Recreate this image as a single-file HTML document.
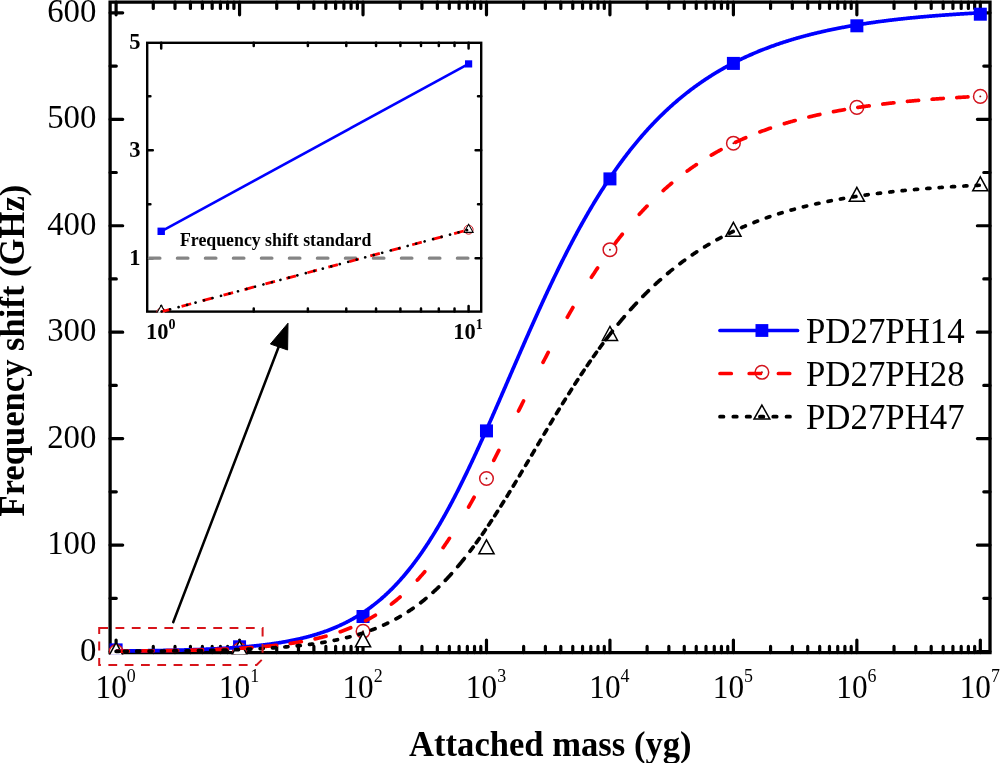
<!DOCTYPE html>
<html><head><meta charset="utf-8"><style>
html,body{margin:0;padding:0;background:#fff;width:1000px;height:763px;overflow:hidden}
svg{display:block;will-change:transform}
text{font-family:"Liberation Serif",serif;fill:#000}
.tl{font-size:34px}
.sup{font-size:19.5px}
.ttl{font-size:34.6px;font-weight:bold}
.lg{font-size:34.83px}
.ist{font-size:17.8px;font-weight:bold}
.itl{font-size:22.5px;font-weight:bold}
.isup{font-size:14px}
</style></head><body>
<svg width="1000" height="763" viewBox="0 0 1000 763">
<path d="M110.1 652.6V2.2H990V652.6Z" fill="none" stroke="#000" stroke-width="3.3" stroke-linejoin="miter"/>
<path d="M116.1 652.6V640M116.1 2.2V14.8M153.27 652.6V646.4M153.27 2.2V8.4M175.01 652.6V646.4M175.01 2.2V8.4M190.43 652.6V646.4M190.43 2.2V8.4M202.39 652.6V646.4M202.39 2.2V8.4M212.17 652.6V646.4M212.17 2.2V8.4M220.44 652.6V646.4M220.44 2.2V8.4M227.6 652.6V646.4M227.6 2.2V8.4M233.91 652.6V646.4M233.91 2.2V8.4M239.56 652.6V640M239.56 2.2V14.8M276.73 652.6V646.4M276.73 2.2V8.4M298.47 652.6V646.4M298.47 2.2V8.4M313.89 652.6V646.4M313.89 2.2V8.4M325.85 652.6V646.4M325.85 2.2V8.4M335.63 652.6V646.4M335.63 2.2V8.4M343.9 652.6V646.4M343.9 2.2V8.4M351.06 652.6V646.4M351.06 2.2V8.4M357.37 652.6V646.4M357.37 2.2V8.4M363.02 652.6V640M363.02 2.2V14.8M400.19 652.6V646.4M400.19 2.2V8.4M421.93 652.6V646.4M421.93 2.2V8.4M437.35 652.6V646.4M437.35 2.2V8.4M449.31 652.6V646.4M449.31 2.2V8.4M459.09 652.6V646.4M459.09 2.2V8.4M467.36 652.6V646.4M467.36 2.2V8.4M474.52 652.6V646.4M474.52 2.2V8.4M480.83 652.6V646.4M480.83 2.2V8.4M486.48 652.6V640M486.48 2.2V14.8M523.65 652.6V646.4M523.65 2.2V8.4M545.39 652.6V646.4M545.39 2.2V8.4M560.81 652.6V646.4M560.81 2.2V8.4M572.77 652.6V646.4M572.77 2.2V8.4M582.55 652.6V646.4M582.55 2.2V8.4M590.82 652.6V646.4M590.82 2.2V8.4M597.98 652.6V646.4M597.98 2.2V8.4M604.29 652.6V646.4M604.29 2.2V8.4M609.94 652.6V640M609.94 2.2V14.8M647.11 652.6V646.4M647.11 2.2V8.4M668.85 652.6V646.4M668.85 2.2V8.4M684.27 652.6V646.4M684.27 2.2V8.4M696.23 652.6V646.4M696.23 2.2V8.4M706.01 652.6V646.4M706.01 2.2V8.4M714.28 652.6V646.4M714.28 2.2V8.4M721.44 652.6V646.4M721.44 2.2V8.4M727.75 652.6V646.4M727.75 2.2V8.4M733.4 652.6V640M733.4 2.2V14.8M770.57 652.6V646.4M770.57 2.2V8.4M792.31 652.6V646.4M792.31 2.2V8.4M807.73 652.6V646.4M807.73 2.2V8.4M819.69 652.6V646.4M819.69 2.2V8.4M829.47 652.6V646.4M829.47 2.2V8.4M837.74 652.6V646.4M837.74 2.2V8.4M844.9 652.6V646.4M844.9 2.2V8.4M851.21 652.6V646.4M851.21 2.2V8.4M856.86 652.6V640M856.86 2.2V14.8M894.03 652.6V646.4M894.03 2.2V8.4M915.77 652.6V646.4M915.77 2.2V8.4M931.19 652.6V646.4M931.19 2.2V8.4M943.15 652.6V646.4M943.15 2.2V8.4M952.93 652.6V646.4M952.93 2.2V8.4M961.2 652.6V646.4M961.2 2.2V8.4M968.36 652.6V646.4M968.36 2.2V8.4M974.67 652.6V646.4M974.67 2.2V8.4M980.32 652.6V640M980.32 2.2V14.8M110.1 651.5H122.7M990 651.5H977.4M110.1 598.28H116.3M990 598.28H983.8M110.1 545.06H122.7M990 545.06H977.4M110.1 491.84H116.3M990 491.84H983.8M110.1 438.62H122.7M990 438.62H977.4M110.1 385.4H116.3M990 385.4H983.8M110.1 332.18H122.7M990 332.18H977.4M110.1 278.96H116.3M990 278.96H983.8M110.1 225.74H122.7M990 225.74H977.4M110.1 172.52H116.3M990 172.52H983.8M110.1 119.3H122.7M990 119.3H977.4M110.1 66.08H116.3M990 66.08H983.8M110.1 12.86H122.7M990 12.86H977.4" stroke="#000" stroke-width="3.2" stroke-linecap="round" fill="none"/>
<defs><clipPath id="pc"><rect x="108.8" y="0.8" width="882.6" height="653.6"/></clipPath><clipPath id="ic"><rect x="146" y="41.6" width="336.4" height="271.1"/></clipPath></defs><g clip-path="url(#pc)">
<rect x="109.6" y="643.4" width="13" height="13" fill="#0000ff"/>
<rect x="233.06" y="640.3" width="13" height="13" fill="#0000ff"/>
<rect x="356.52" y="610" width="13" height="13" fill="#0000ff"/>
<rect x="479.98" y="424.4" width="13" height="13" fill="#0000ff"/>
<rect x="603.44" y="172.4" width="13" height="13" fill="#0000ff"/>
<rect x="726.9" y="56.9" width="13" height="13" fill="#0000ff"/>
<rect x="850.36" y="19.3" width="13" height="13" fill="#0000ff"/>
<rect x="973.82" y="7.7" width="13" height="13" fill="#0000ff"/>
<circle cx="116.1" cy="651.5" r="6.8" fill="#fff" stroke="#d3141e" stroke-width="1.5"/><circle cx="116.1" cy="651.5" r="0.95" fill="#8a1414"/>
<circle cx="239.56" cy="649.9" r="6.8" fill="#fff" stroke="#d3141e" stroke-width="1.5"/><circle cx="239.56" cy="649.9" r="0.95" fill="#8a1414"/>
<circle cx="363.02" cy="631.3" r="6.8" fill="#fff" stroke="#d3141e" stroke-width="1.5"/><circle cx="363.02" cy="631.3" r="0.95" fill="#8a1414"/>
<circle cx="486.48" cy="478.5" r="6.8" fill="#fff" stroke="#d3141e" stroke-width="1.5"/><circle cx="486.48" cy="478.5" r="0.95" fill="#8a1414"/>
<circle cx="609.94" cy="249.7" r="6.8" fill="#fff" stroke="#d3141e" stroke-width="1.5"/><circle cx="609.94" cy="249.7" r="0.95" fill="#8a1414"/>
<circle cx="733.4" cy="143.2" r="6.8" fill="#fff" stroke="#d3141e" stroke-width="1.5"/><circle cx="733.4" cy="143.2" r="0.95" fill="#8a1414"/>
<circle cx="856.86" cy="107.4" r="6.8" fill="#fff" stroke="#d3141e" stroke-width="1.5"/><circle cx="856.86" cy="107.4" r="0.95" fill="#8a1414"/>
<circle cx="980.32" cy="96.4" r="6.8" fill="#fff" stroke="#d3141e" stroke-width="1.5"/><circle cx="980.32" cy="96.4" r="0.95" fill="#8a1414"/>
<path d="M116.1 642.57L123.7 656.57L108.5 656.57Z" fill="#fff" stroke="#000" stroke-width="1.5"/>
<path d="M239.56 640.97L247.16 654.97L231.96 654.97Z" fill="#fff" stroke="#000" stroke-width="1.5"/>
<path d="M363.02 632.77L370.62 646.77L355.42 646.77Z" fill="#fff" stroke="#000" stroke-width="1.5"/>
<path d="M486.48 539.77L494.08 553.77L478.88 553.77Z" fill="#fff" stroke="#000" stroke-width="1.5"/>
<path d="M609.94 326.47L617.54 340.47L602.34 340.47Z" fill="#fff" stroke="#000" stroke-width="1.5"/>
<path d="M733.4 222.27L741 236.27L725.8 236.27Z" fill="#fff" stroke="#000" stroke-width="1.5"/>
<path d="M856.86 187.27L864.46 201.27L849.26 201.27Z" fill="#fff" stroke="#000" stroke-width="1.5"/>
<path d="M980.32 176.87L987.92 190.87L972.72 190.87Z" fill="#fff" stroke="#000" stroke-width="1.5"/>
<path d="M116.1 651.07 116.72 651.07 117.33 651.06 117.95 651.06 118.57 651.05 119.19 651.05 119.8 651.04 120.42 651.04 121.04 651.03 121.66 651.03 122.27 651.02 122.89 651.02 123.51 651.01 124.12 651 124.74 651 125.36 650.99 125.98 650.99 126.59 650.98 127.21 650.98 127.83 650.97 128.45 650.96 129.06 650.96 129.68 650.95 130.3 650.94 130.92 650.94 131.53 650.93 132.15 650.92 132.77 650.92 133.38 650.91 134 650.9 134.62 650.9 135.24 650.89 135.85 650.88 136.47 650.88 137.09 650.87 137.71 650.86 138.32 650.85 138.94 650.85 139.56 650.84 140.17 650.83 140.79 650.82 141.41 650.82 142.03 650.81 142.64 650.8 143.26 650.79 143.88 650.78 144.5 650.78 145.11 650.77 145.73 650.76 146.35 650.75 146.97 650.74 147.58 650.73 148.2 650.72 148.82 650.72 149.43 650.71 150.05 650.7 150.67 650.69 151.29 650.68 151.9 650.67 152.52 650.66 153.14 650.65 153.76 650.64 154.37 650.63 154.99 650.62 155.61 650.61 156.22 650.6 156.84 650.59 157.46 650.58 158.08 650.57 158.69 650.56 159.31 650.55 159.93 650.54 160.55 650.52 161.16 650.51 161.78 650.5 162.4 650.49 163.01 650.48 163.63 650.47 164.25 650.45 164.87 650.44 165.48 650.43 166.1 650.42 166.72 650.41 167.34 650.39 167.95 650.38 168.57 650.37 169.19 650.35 169.81 650.34 170.42 650.33 171.04 650.31 171.66 650.3 172.27 650.29 172.89 650.27 173.51 650.26 174.13 650.24 174.74 650.23 175.36 650.21 175.98 650.2 176.6 650.18 177.21 650.17 177.83 650.15 178.45 650.14 179.06 650.12 179.68 650.11 180.3 650.09 180.92 650.07 181.53 650.06 182.15 650.04 182.77 650.02 183.39 650.01 184 649.99 184.62 649.97 185.24 649.96 185.85 649.94 186.47 649.92 187.09 649.9 187.71 649.88 188.32 649.86 188.94 649.85 189.56 649.83 190.18 649.81 190.79 649.79 191.41 649.77 192.03 649.75 192.65 649.73 193.26 649.71 193.88 649.69 194.5 649.67 195.11 649.64 195.73 649.62 196.35 649.6 196.97 649.58 197.58 649.56 198.2 649.54 198.82 649.51 199.44 649.49 200.05 649.47 200.67 649.44 201.29 649.42 201.9 649.4 202.52 649.37 203.14 649.35 203.76 649.32 204.37 649.3 204.99 649.27 205.61 649.25 206.23 649.22 206.84 649.19 207.46 649.17 208.08 649.14 208.69 649.11 209.31 649.09 209.93 649.06 210.55 649.03 211.16 649 211.78 648.97 212.4 648.94 213.02 648.91 213.63 648.88 214.25 648.85 214.87 648.82 215.49 648.79 216.1 648.76 216.72 648.73 217.34 648.7 217.95 648.67 218.57 648.63 219.19 648.6 219.81 648.57 220.42 648.53 221.04 648.5 221.66 648.46 222.28 648.43 222.89 648.39 223.51 648.36 224.13 648.32 224.74 648.29 225.36 648.25 225.98 648.21 226.6 648.17 227.21 648.14 227.83 648.1 228.45 648.06 229.07 648.02 229.68 647.98 230.3 647.94 230.92 647.9 231.54 647.86 232.15 647.81 232.77 647.77 233.39 647.73 234 647.69 234.62 647.64 235.24 647.6 235.86 647.55 236.47 647.51 237.09 647.46 237.71 647.42 238.33 647.37 238.94 647.32 239.56 647.27 240.18 647.22 240.79 647.18 241.41 647.13 242.03 647.08 242.65 647.03 243.26 646.97 243.88 646.92 244.5 646.87 245.12 646.82 245.73 646.76 246.35 646.71 246.97 646.65 247.58 646.6 248.2 646.54 248.82 646.49 249.44 646.43 250.05 646.37 250.67 646.31 251.29 646.25 251.91 646.19 252.52 646.13 253.14 646.07 253.76 646.01 254.38 645.94 254.99 645.88 255.61 645.82 256.23 645.75 256.84 645.69 257.46 645.62 258.08 645.55 258.7 645.49 259.31 645.42 259.93 645.35 260.55 645.28 261.17 645.21 261.78 645.13 262.4 645.06 263.02 644.99 263.63 644.91 264.25 644.84 264.87 644.76 265.49 644.69 266.1 644.61 266.72 644.53 267.34 644.45 267.96 644.37 268.57 644.29 269.19 644.21 269.81 644.12 270.42 644.04 271.04 643.96 271.66 643.87 272.28 643.78 272.89 643.69 273.51 643.61 274.13 643.52 274.75 643.43 275.36 643.33 275.98 643.24 276.6 643.15 277.22 643.05 277.83 642.96 278.45 642.86 279.07 642.76 279.68 642.66 280.3 642.56 280.92 642.46 281.54 642.36 282.15 642.26 282.77 642.15 283.39 642.04 284.01 641.94 284.62 641.83 285.24 641.72 285.86 641.61 286.47 641.5 287.09 641.38 287.71 641.27 288.33 641.15 288.94 641.04 289.56 640.92 290.18 640.8 290.8 640.68 291.41 640.56 292.03 640.43 292.65 640.31 293.27 640.18 293.88 640.05 294.5 639.93 295.12 639.8 295.73 639.66 296.35 639.53 296.97 639.4 297.59 639.26 298.2 639.12 298.82 638.98 299.44 638.84 300.06 638.7 300.67 638.56 301.29 638.41 301.91 638.26 302.52 638.11 303.14 637.96 303.76 637.81 304.38 637.66 304.99 637.5 305.61 637.35 306.23 637.19 306.85 637.03 307.46 636.87 308.08 636.7 308.7 636.54 309.31 636.37 309.93 636.2 310.55 636.03 311.17 635.86 311.78 635.68 312.4 635.51 313.02 635.33 313.64 635.15 314.25 634.97 314.87 634.78 315.49 634.6 316.11 634.41 316.72 634.22 317.34 634.03 317.96 633.83 318.57 633.64 319.19 633.44 319.81 633.24 320.43 633.04 321.04 632.83 321.66 632.62 322.28 632.41 322.9 632.2 323.51 631.99 324.13 631.77 324.75 631.56 325.36 631.34 325.98 631.11 326.6 630.89 327.22 630.66 327.83 630.43 328.45 630.2 329.07 629.97 329.69 629.73 330.3 629.49 330.92 629.25 331.54 629 332.15 628.76 332.77 628.51 333.39 628.26 334.01 628 334.62 627.74 335.24 627.48 335.86 627.22 336.48 626.96 337.09 626.69 337.71 626.42 338.33 626.14 338.95 625.87 339.56 625.59 340.18 625.31 340.8 625.02 341.41 624.73 342.03 624.44 342.65 624.15 343.27 623.85 343.88 623.55 344.5 623.25 345.12 622.94 345.74 622.64 346.35 622.32 346.97 622.01 347.59 621.69 348.2 621.37 348.82 621.04 349.44 620.72 350.06 620.39 350.67 620.05 351.29 619.71 351.91 619.37 352.53 619.03 353.14 618.68 353.76 618.33 354.38 617.98 355 617.62 355.61 617.26 356.23 616.89 356.85 616.52 357.46 616.15 358.08 615.77 358.7 615.39 359.32 615.01 359.93 614.62 360.55 614.23 361.17 613.84 361.79 613.44 362.4 613.04 363.02 612.63 363.64 612.22 364.25 611.81 364.87 611.39 365.49 610.97 366.11 610.54 366.72 610.12 367.34 609.68 367.96 609.24 368.58 608.8 369.19 608.36 369.81 607.91 370.43 607.45 371.04 606.99 371.66 606.53 372.28 606.06 372.9 605.59 373.51 605.12 374.13 604.64 374.75 604.15 375.37 603.66 375.98 603.17 376.6 602.67 377.22 602.17 377.84 601.67 378.45 601.15 379.07 600.64 379.69 600.12 380.3 599.59 380.92 599.06 381.54 598.53 382.16 597.99 382.77 597.45 383.39 596.9 384.01 596.34 384.63 595.79 385.24 595.22 385.86 594.65 386.48 594.08 387.09 593.5 387.71 592.92 388.33 592.33 388.95 591.74 389.56 591.14 390.18 590.54 390.8 589.93 391.42 589.32 392.03 588.7 392.65 588.08 393.27 587.45 393.88 586.82 394.5 586.18 395.12 585.53 395.74 584.88 396.35 584.23 396.97 583.57 397.59 582.9 398.21 582.23 398.82 581.56 399.44 580.87 400.06 580.19 400.68 579.49 401.29 578.8 401.91 578.09 402.53 577.38 403.14 576.67 403.76 575.95 404.38 575.22 405 574.49 405.61 573.76 406.23 573.01 406.85 572.27 407.47 571.51 408.08 570.75 408.7 569.99 409.32 569.22 409.93 568.44 410.55 567.66 411.17 566.87 411.79 566.08 412.4 565.28 413.02 564.47 413.64 563.66 414.26 562.85 414.87 562.02 415.49 561.19 416.11 560.36 416.73 559.52 417.34 558.67 417.96 557.82 418.58 556.96 419.19 556.1 419.81 555.23 420.43 554.36 421.05 553.48 421.66 552.59 422.28 551.7 422.9 550.8 423.52 549.89 424.13 548.98 424.75 548.07 425.37 547.14 425.98 546.21 426.6 545.28 427.22 544.34 427.84 543.39 428.45 542.44 429.07 541.49 429.69 540.52 430.31 539.55 430.92 538.58 431.54 537.6 432.16 536.61 432.77 535.62 433.39 534.62 434.01 533.61 434.63 532.6 435.24 531.59 435.86 530.56 436.48 529.54 437.1 528.5 437.71 527.46 438.33 526.42 438.95 525.37 439.57 524.31 440.18 523.25 440.8 522.18 441.42 521.11 442.03 520.03 442.65 518.95 443.27 517.85 443.89 516.76 444.5 515.66 445.12 514.55 445.74 513.44 446.36 512.32 446.97 511.2 447.59 510.07 448.21 508.93 448.82 507.8 449.44 506.65 450.06 505.5 450.68 504.35 451.29 503.18 451.91 502.02 452.53 500.85 453.15 499.67 453.76 498.49 454.38 497.3 455 496.11 455.62 494.92 456.23 493.72 456.85 492.51 457.47 491.3 458.08 490.08 458.7 488.86 459.32 487.64 459.94 486.41 460.55 485.17 461.17 483.93 461.79 482.69 462.41 481.44 463.02 480.19 463.64 478.93 464.26 477.67 464.87 476.4 465.49 475.13 466.11 473.85 466.73 472.58 467.34 471.29 467.96 470 468.58 468.71 469.2 467.42 469.81 466.12 470.43 464.81 471.05 463.51 471.66 462.2 472.28 460.88 472.9 459.56 473.52 458.24 474.13 456.92 474.75 455.59 475.37 454.25 475.99 452.92 476.6 451.58 477.22 450.24 477.84 448.89 478.46 447.54 479.07 446.19 479.69 444.83 480.31 443.47 480.92 442.11 481.54 440.75 482.16 439.38 482.78 438.01 483.39 436.64 484.01 435.26 484.63 433.89 485.25 432.51 485.86 431.12 486.48 429.74 487.1 428.35 487.71 426.96 488.33 425.57 488.95 424.18 489.57 422.78 490.18 421.38 490.8 419.98 491.42 418.58 492.04 417.18 492.65 415.77 493.27 414.37 493.89 412.96 494.5 411.55 495.12 410.13 495.74 408.72 496.36 407.31 496.97 405.89 497.59 404.48 498.21 403.06 498.83 401.64 499.44 400.22 500.06 398.8 500.68 397.38 501.3 395.95 501.91 394.53 502.53 393.11 503.15 391.68 503.76 390.26 504.38 388.83 505 387.4 505.62 385.98 506.23 384.55 506.85 383.12 507.47 381.7 508.09 380.27 508.7 378.84 509.32 377.41 509.94 375.99 510.55 374.56 511.17 373.13 511.79 371.7 512.41 370.28 513.02 368.85 513.64 367.43 514.26 366 514.88 364.58 515.49 363.15 516.11 361.73 516.73 360.31 517.35 358.89 517.96 357.47 518.58 356.05 519.2 354.63 519.81 353.21 520.43 351.79 521.05 350.38 521.67 348.96 522.28 347.55 522.9 346.14 523.52 344.73 524.14 343.32 524.75 341.91 525.37 340.5 525.99 339.1 526.6 337.7 527.22 336.3 527.84 334.9 528.46 333.5 529.07 332.1 529.69 330.71 530.31 329.32 530.93 327.93 531.54 326.54 532.16 325.16 532.78 323.77 533.39 322.39 534.01 321.01 534.63 319.64 535.25 318.26 535.86 316.89 536.48 315.52 537.1 314.15 537.72 312.79 538.33 311.43 538.95 310.07 539.57 308.71 540.19 307.36 540.8 306.01 541.42 304.66 542.04 303.31 542.65 301.97 543.27 300.63 543.89 299.29 544.51 297.96 545.12 296.63 545.74 295.3 546.36 293.97 546.98 292.65 547.59 291.33 548.21 290.02 548.83 288.7 549.44 287.39 550.06 286.09 550.68 284.78 551.3 283.48 551.91 282.19 552.53 280.9 553.15 279.61 553.77 278.32 554.38 277.04 555 275.76 555.62 274.48 556.23 273.21 556.85 271.94 557.47 270.68 558.09 269.42 558.7 268.16 559.32 266.91 559.94 265.66 560.56 264.41 561.17 263.17 561.79 261.93 562.41 260.69 563.03 259.46 563.64 258.23 564.26 257.01 564.88 255.79 565.49 254.58 566.11 253.36 566.73 252.16 567.35 250.95 567.96 249.75 568.58 248.55 569.2 247.36 569.82 246.17 570.43 244.99 571.05 243.81 571.67 242.63 572.28 241.46 572.9 240.29 573.52 239.13 574.14 237.97 574.75 236.81 575.37 235.66 575.99 234.51 576.61 233.37 577.22 232.23 577.84 231.1 578.46 229.97 579.07 228.84 579.69 227.72 580.31 226.6 580.93 225.48 581.54 224.37 582.16 223.27 582.78 222.17 583.4 221.07 584.01 219.98 584.63 218.89 585.25 217.8 585.87 216.72 586.48 215.64 587.1 214.57 587.72 213.51 588.33 212.44 588.95 211.38 589.57 210.33 590.19 209.28 590.8 208.23 591.42 207.19 592.04 206.15 592.66 205.12 593.27 204.09 593.89 203.06 594.51 202.04 595.12 201.02 595.74 200.01 596.36 199 596.98 198 597.59 197 598.21 196 598.83 195.01 599.45 194.03 600.06 193.04 600.68 192.06 601.3 191.09 601.92 190.12 602.53 189.15 603.15 188.19 603.77 187.24 604.38 186.28 605 185.33 605.62 184.39 606.24 183.45 606.85 182.51 607.47 181.58 608.09 180.65 608.71 179.73 609.32 178.81 609.94 177.89 610.56 176.98 611.17 176.07 611.79 175.17 612.41 174.27 613.03 173.38 613.64 172.49 614.26 171.6 614.88 170.72 615.5 169.84 616.11 168.96 616.73 168.09 617.35 167.23 617.96 166.37 618.58 165.51 619.2 164.65 619.82 163.8 620.43 162.96 621.05 162.12 621.67 161.28 622.29 160.44 622.9 159.61 623.52 158.79 624.14 157.96 624.76 157.15 625.37 156.33 625.99 155.52 626.61 154.72 627.22 153.91 627.84 153.11 628.46 152.32 629.08 151.53 629.69 150.74 630.31 149.96 630.93 149.18 631.55 148.4 632.16 147.63 632.78 146.86 633.4 146.1 634.01 145.34 634.63 144.58 635.25 143.83 635.87 143.08 636.48 142.34 637.1 141.59 637.72 140.86 638.34 140.12 638.95 139.39 639.57 138.66 640.19 137.94 640.8 137.22 641.42 136.51 642.04 135.79 642.66 135.08 643.27 134.38 643.89 133.68 644.51 132.98 645.13 132.29 645.74 131.59 646.36 130.91 646.98 130.22 647.6 129.54 648.21 128.87 648.83 128.19 649.45 127.52 650.06 126.86 650.68 126.19 651.3 125.53 651.92 124.88 652.53 124.22 653.15 123.57 653.77 122.93 654.39 122.29 655 121.65 655.62 121.01 656.24 120.38 656.85 119.75 657.47 119.12 658.09 118.5 658.71 117.88 659.32 117.26 659.94 116.65 660.56 116.04 661.18 115.43 661.79 114.83 662.41 114.23 663.03 113.63 663.65 113.04 664.26 112.45 664.88 111.86 665.5 111.27 666.11 110.69 666.73 110.11 667.35 109.54 667.97 108.96 668.58 108.39 669.2 107.83 669.82 107.26 670.44 106.7 671.05 106.15 671.67 105.59 672.29 105.04 672.9 104.49 673.52 103.95 674.14 103.4 674.76 102.86 675.37 102.33 675.99 101.79 676.61 101.26 677.23 100.73 677.84 100.21 678.46 99.69 679.08 99.17 679.69 98.65 680.31 98.13 680.93 97.62 681.55 97.11 682.16 96.61 682.78 96.11 683.4 95.61 684.02 95.11 684.63 94.61 685.25 94.12 685.87 93.63 686.49 93.14 687.1 92.66 687.72 92.18 688.34 91.7 688.95 91.22 689.57 90.75 690.19 90.28 690.81 89.81 691.42 89.34 692.04 88.88 692.66 88.42 693.28 87.96 693.89 87.5 694.51 87.05 695.13 86.6 695.74 86.15 696.36 85.7 696.98 85.26 697.6 84.82 698.21 84.38 698.83 83.94 699.45 83.51 700.07 83.08 700.68 82.65 701.3 82.22 701.92 81.79 702.53 81.37 703.15 80.95 703.77 80.54 704.39 80.12 705 79.71 705.62 79.3 706.24 78.89 706.86 78.48 707.47 78.08 708.09 77.68 708.71 77.28 709.33 76.88 709.94 76.48 710.56 76.09 711.18 75.7 711.79 75.31 712.41 74.93 713.03 74.54 713.65 74.16 714.26 73.78 714.88 73.4 715.5 73.02 716.12 72.65 716.73 72.28 717.35 71.91 717.97 71.54 718.58 71.18 719.2 70.81 719.82 70.45 720.44 70.09 721.05 69.74 721.67 69.38 722.29 69.03 722.91 68.68 723.52 68.33 724.14 67.98 724.76 67.63 725.38 67.29 725.99 66.95 726.61 66.61 727.23 66.27 727.84 65.93 728.46 65.6 729.08 65.27 729.7 64.94 730.31 64.61 730.93 64.28 731.55 63.96 732.17 63.63 732.78 63.31 733.4 62.99 734.02 62.68 734.63 62.36 735.25 62.05 735.87 61.73 736.49 61.42 737.1 61.11 737.72 60.81 738.34 60.5 738.96 60.2 739.57 59.9 740.19 59.6 740.81 59.3 741.42 59 742.04 58.7 742.66 58.41 743.28 58.12 743.89 57.83 744.51 57.54 745.13 57.25 745.75 56.97 746.36 56.68 746.98 56.4 747.6 56.12 748.22 55.84 748.83 55.57 749.45 55.29 750.07 55.02 750.68 54.74 751.3 54.47 751.92 54.2 752.54 53.93 753.15 53.67 753.77 53.4 754.39 53.14 755.01 52.88 755.62 52.62 756.24 52.36 756.86 52.1 757.47 51.84 758.09 51.59 758.71 51.33 759.33 51.08 759.94 50.83 760.56 50.58 761.18 50.33 761.8 50.09 762.41 49.84 763.03 49.6 763.65 49.36 764.26 49.12 764.88 48.88 765.5 48.64 766.12 48.4 766.73 48.17 767.35 47.93 767.97 47.7 768.59 47.47 769.2 47.24 769.82 47.01 770.44 46.78 771.06 46.56 771.67 46.33 772.29 46.11 772.91 45.89 773.52 45.67 774.14 45.45 774.76 45.23 775.38 45.01 775.99 44.79 776.61 44.58 777.23 44.37 777.85 44.15 778.46 43.94 779.08 43.73 779.7 43.52 780.31 43.32 780.93 43.11 781.55 42.9 782.17 42.7 782.78 42.5 783.4 42.3 784.02 42.09 784.64 41.89 785.25 41.7 785.87 41.5 786.49 41.3 787.11 41.11 787.72 40.91 788.34 40.72 788.96 40.53 789.57 40.34 790.19 40.15 790.81 39.96 791.43 39.77 792.04 39.59 792.66 39.4 793.28 39.22 793.9 39.04 794.51 38.85 795.13 38.67 795.75 38.49 796.36 38.31 796.98 38.14 797.6 37.96 798.22 37.78 798.83 37.61 799.45 37.43 800.07 37.26 800.69 37.09 801.3 36.92 801.92 36.75 802.54 36.58 803.15 36.41 803.77 36.24 804.39 36.08 805.01 35.91 805.62 35.75 806.24 35.58 806.86 35.42 807.48 35.26 808.09 35.1 808.71 34.94 809.33 34.78 809.95 34.62 810.56 34.47 811.18 34.31 811.8 34.16 812.41 34 813.03 33.85 813.65 33.7 814.27 33.54 814.88 33.39 815.5 33.24 816.12 33.09 816.74 32.95 817.35 32.8 817.97 32.65 818.59 32.51 819.2 32.36 819.82 32.22 820.44 32.08 821.06 31.93 821.67 31.79 822.29 31.65 822.91 31.51 823.53 31.37 824.14 31.23 824.76 31.1 825.38 30.96 826 30.82 826.61 30.69 827.23 30.55 827.85 30.42 828.46 30.29 829.08 30.15 829.7 30.02 830.32 29.89 830.93 29.76 831.55 29.63 832.17 29.51 832.79 29.38 833.4 29.25 834.02 29.12 834.64 29 835.25 28.87 835.87 28.75 836.49 28.63 837.11 28.5 837.72 28.38 838.34 28.26 838.96 28.14 839.58 28.02 840.19 27.9 840.81 27.78 841.43 27.67 842.04 27.55 842.66 27.43 843.28 27.32 843.9 27.2 844.51 27.09 845.13 26.97 845.75 26.86 846.37 26.75 846.98 26.63 847.6 26.52 848.22 26.41 848.84 26.3 849.45 26.19 850.07 26.08 850.69 25.98 851.3 25.87 851.92 25.76 852.54 25.66 853.16 25.55 853.77 25.45 854.39 25.34 855.01 25.24 855.63 25.13 856.24 25.03 856.86 24.93 857.48 24.83 858.09 24.73 858.71 24.63 859.33 24.53 859.95 24.43 860.56 24.33 861.18 24.23 861.8 24.13 862.42 24.04 863.03 23.94 863.65 23.84 864.27 23.75 864.88 23.65 865.5 23.56 866.12 23.47 866.74 23.37 867.35 23.28 867.97 23.19 868.59 23.1 869.21 23.01 869.82 22.92 870.44 22.83 871.06 22.74 871.68 22.65 872.29 22.56 872.91 22.47 873.53 22.38 874.14 22.3 874.76 22.21 875.38 22.13 876 22.04 876.61 21.95 877.23 21.87 877.85 21.79 878.47 21.7 879.08 21.62 879.7 21.54 880.32 21.46 880.93 21.37 881.55 21.29 882.17 21.21 882.79 21.13 883.4 21.05 884.02 20.97 884.64 20.89 885.26 20.82 885.87 20.74 886.49 20.66 887.11 20.58 887.73 20.51 888.34 20.43 888.96 20.36 889.58 20.28 890.19 20.21 890.81 20.13 891.43 20.06 892.05 19.98 892.66 19.91 893.28 19.84 893.9 19.77 894.52 19.69 895.13 19.62 895.75 19.55 896.37 19.48 896.98 19.41 897.6 19.34 898.22 19.27 898.84 19.2 899.45 19.13 900.07 19.06 900.69 19 901.31 18.93 901.92 18.86 902.54 18.8 903.16 18.73 903.77 18.66 904.39 18.6 905.01 18.53 905.63 18.47 906.24 18.4 906.86 18.34 907.48 18.28 908.1 18.21 908.71 18.15 909.33 18.09 909.95 18.02 910.57 17.96 911.18 17.9 911.8 17.84 912.42 17.78 913.03 17.72 913.65 17.66 914.27 17.6 914.89 17.54 915.5 17.48 916.12 17.42 916.74 17.36 917.36 17.3 917.97 17.25 918.59 17.19 919.21 17.13 919.82 17.08 920.44 17.02 921.06 16.96 921.68 16.91 922.29 16.85 922.91 16.8 923.53 16.74 924.15 16.69 924.76 16.63 925.38 16.58 926 16.53 926.61 16.47 927.23 16.42 927.85 16.37 928.47 16.31 929.08 16.26 929.7 16.21 930.32 16.16 930.94 16.11 931.55 16.06 932.17 16.01 932.79 15.96 933.41 15.91 934.02 15.86 934.64 15.81 935.26 15.76 935.87 15.71 936.49 15.66 937.11 15.61 937.73 15.56 938.34 15.52 938.96 15.47 939.58 15.42 940.2 15.37 940.81 15.33 941.43 15.28 942.05 15.23 942.66 15.19 943.28 15.14 943.9 15.1 944.52 15.05 945.13 15.01 945.75 14.96 946.37 14.92 946.99 14.87 947.6 14.83 948.22 14.79 948.84 14.74 949.45 14.7 950.07 14.66 950.69 14.62 951.31 14.57 951.92 14.53 952.54 14.49 953.16 14.45 953.78 14.41 954.39 14.37 955.01 14.32 955.63 14.28 956.25 14.24 956.86 14.2 957.48 14.16 958.1 14.12 958.71 14.08 959.33 14.04 959.95 14.01 960.57 13.97 961.18 13.93 961.8 13.89 962.42 13.85 963.04 13.81 963.65 13.78 964.27 13.74 964.89 13.7 965.5 13.66 966.12 13.63 966.74 13.59 967.36 13.55 967.97 13.52 968.59 13.48 969.21 13.45 969.83 13.41 970.44 13.37 971.06 13.34 971.68 13.3 972.3 13.27 972.91 13.24 973.53 13.2 974.15 13.17 974.76 13.13 975.38 13.1 976 13.06 976.62 13.03 977.23 13 977.85 12.97 978.47 12.93 979.09 12.9 979.7 12.87 980.32 12.83" stroke="#0000ff" stroke-width="3.7" fill="none" stroke-linejoin="round"/>
<path d="M117.25 651.17 117.37 651.17 117.68 651.17 118 651.17 118.32 651.17 118.63 651.17 118.95 651.16 119.27 651.16 119.58 651.16 119.9 651.16 120.22 651.16 120.53 651.15 120.85 651.15 121.17 651.15 121.48 651.15 121.8 651.15 122.11 651.14 122.43 651.14 122.75 651.14 123.06 651.14 123.38 651.14 123.7 651.13 124.01 651.13 124.33 651.13 124.65 651.13 124.96 651.12 125.28 651.12 125.6 651.12 125.91 651.12 126.23 651.12 126.55 651.11 126.86 651.11 127.18 651.11 127.5 651.11 127.81 651.1 128.13 651.1 128.45 651.1 M141.94 650.98 142.37 650.98 143.01 650.97 143.64 650.97 144.27 650.96 144.91 650.96 145.54 650.95 146.17 650.94 146.81 650.94 147.44 650.93 148.07 650.92 148.71 650.92 149.34 650.91 149.97 650.9 150.61 650.89 151.24 650.89 151.87 650.88 152.5 650.87 153.14 650.87 M166.63 650.68 167.07 650.68 167.7 650.67 168.33 650.66 168.97 650.65 169.6 650.64 170.23 650.63 170.87 650.62 171.5 650.61 172.13 650.6 172.76 650.59 173.4 650.57 174.03 650.56 174.66 650.55 175.3 650.54 175.93 650.53 176.56 650.52 177.2 650.51 177.83 650.49 M191.33 650.21 191.76 650.2 192.39 650.18 193.03 650.17 193.66 650.15 194.29 650.13 194.92 650.12 195.56 650.1 196.19 650.09 196.82 650.07 197.46 650.05 198.09 650.04 198.72 650.02 199.36 650 199.99 649.98 200.62 649.96 201.26 649.95 201.89 649.93 202.52 649.91 M216.02 649.46 216.45 649.44 217.08 649.42 217.72 649.39 218.35 649.37 218.98 649.34 219.62 649.32 220.25 649.29 220.88 649.26 221.52 649.24 222.15 649.21 222.78 649.18 223.42 649.16 224.05 649.13 224.68 649.1 225.31 649.07 225.95 649.04 226.58 649.01 227.21 648.99 M240.73 648.27 241.14 648.25 241.78 648.21 242.41 648.17 243.04 648.13 243.68 648.09 244.31 648.05 244.94 648.01 245.57 647.97 246.21 647.93 246.84 647.88 247.47 647.84 248.11 647.8 248.74 647.76 249.37 647.71 250.01 647.67 250.64 647.62 251.27 647.58 251.91 647.53 M265.46 646.4 265.83 646.37 266.47 646.31 267.1 646.25 267.73 646.19 268.37 646.12 269 646.06 269.63 646 270.27 645.93 270.9 645.87 271.53 645.8 272.17 645.74 272.8 645.67 273.43 645.6 274.07 645.53 274.7 645.46 275.33 645.39 275.96 645.32 276.6 645.25 M290.23 643.47 290.53 643.43 291.16 643.34 291.79 643.24 292.43 643.15 293.06 643.05 293.69 642.95 294.33 642.85 294.96 642.75 295.59 642.65 296.22 642.55 296.86 642.44 297.49 642.34 298.12 642.23 298.76 642.13 299.39 642.02 300.02 641.91 300.66 641.8 301.29 641.68 M315.12 638.89 315.22 638.87 315.85 638.73 316.49 638.58 317.12 638.43 317.75 638.28 318.38 638.13 319.02 637.98 319.65 637.82 320.28 637.67 320.92 637.51 321.55 637.35 322.18 637.19 322.82 637.02 323.45 636.86 324.08 636.69 324.72 636.52 325.35 636.35 325.98 636.18 M340.21 631.76 340.54 631.65 341.18 631.42 341.81 631.2 342.44 630.97 343.08 630.74 343.71 630.51 344.34 630.27 344.98 630.03 345.61 629.79 346.24 629.55 346.88 629.31 347.51 629.06 348.14 628.81 348.77 628.55 349.41 628.3 350.04 628.04 350.67 627.78 M365.63 620.76 365.87 620.64 366.5 620.3 367.14 619.96 367.77 619.62 368.4 619.27 369.03 618.92 369.67 618.57 370.3 618.21 370.93 617.85 371.57 617.49 372.2 617.12 372.83 616.75 373.47 616.37 374.1 615.99 374.73 615.61 375.37 615.23 M391.41 604.13 391.83 603.81 392.46 603.32 393.09 602.82 393.73 602.31 394.36 601.8 394.99 601.29 395.63 600.77 396.26 600.25 396.89 599.72 397.53 599.19 398.16 598.65 398.79 598.11 399.42 597.57 400.06 597.02 M417.35 580.09 417.79 579.62 418.42 578.93 419.05 578.23 419.68 577.52 420.32 576.81 420.95 576.09 421.58 575.37 422.22 574.65 422.85 573.91 423.48 573.18 424.12 572.43 424.75 571.69 M443.15 547.59 443.74 546.74 444.38 545.83 445.01 544.91 445.64 543.99 446.28 543.06 446.91 542.12 447.54 541.18 448.18 540.23 448.81 539.28 449.44 538.33 M468.63 507.02 469.07 506.25 469.7 505.14 470.34 504.02 470.97 502.91 471.6 501.79 472.23 500.66 472.87 499.53 473.5 498.4 474.13 497.27 M493.74 460.41 493.76 460.36 494.39 459.13 495.03 457.89 495.66 456.65 496.29 455.41 496.93 454.17 497.56 452.92 498.19 451.68 498.83 450.43 M518.53 411.02 519.09 409.9 519.72 408.63 520.35 407.35 520.99 406.08 521.62 404.81 522.25 403.54 522.88 402.27 523.52 400.99 M543.04 362.37 543.14 362.17 543.78 360.95 544.41 359.73 545.04 358.51 545.68 357.29 546.31 356.07 546.94 354.86 547.58 353.65 548.21 352.44 M567.33 317.26 567.84 316.36 568.47 315.24 569.1 314.13 569.74 313.03 570.37 311.92 571 310.82 571.64 309.73 572.27 308.63 572.9 307.54 M591.43 277.3 591.9 276.57 592.53 275.6 593.16 274.63 593.8 273.66 594.43 272.7 595.06 271.74 595.69 270.79 596.33 269.84 596.96 268.89 597.59 267.95 M615.39 243.05 615.95 242.31 616.59 241.48 617.22 240.66 617.85 239.84 618.49 239.03 619.12 238.22 619.75 237.41 620.39 236.61 621.02 235.81 621.65 235.01 622.29 234.22 M639.3 214.31 639.38 214.22 640.01 213.53 640.65 212.84 641.28 212.16 641.91 211.48 642.55 210.8 643.18 210.13 643.81 209.46 644.45 208.79 645.08 208.13 645.71 207.47 646.34 206.81 646.98 206.16 M663.21 190.54 663.44 190.33 664.07 189.76 664.71 189.2 665.34 188.64 665.97 188.08 666.6 187.53 667.24 186.98 667.87 186.43 668.5 185.88 669.14 185.34 669.77 184.8 670.4 184.26 671.04 183.73 671.67 183.2 M687.2 171.05 687.5 170.83 688.13 170.37 688.76 169.91 689.4 169.45 690.03 169 690.66 168.55 691.3 168.1 691.93 167.66 692.56 167.21 693.2 166.77 693.83 166.34 694.46 165.9 695.1 165.47 695.73 165.04 696.36 164.61 M711.3 155.17 711.56 155.02 712.19 154.65 712.82 154.28 713.46 153.91 714.09 153.55 714.72 153.18 715.36 152.82 715.99 152.46 716.62 152.1 717.26 151.75 717.89 151.4 718.52 151.04 719.15 150.69 719.79 150.35 720.42 150 721.05 149.66 M735.54 142.31 735.62 142.28 736.25 141.98 736.88 141.68 737.52 141.39 738.15 141.09 738.78 140.8 739.41 140.51 740.05 140.22 740.68 139.93 741.31 139.65 741.95 139.36 742.58 139.08 743.21 138.8 743.85 138.52 744.48 138.24 745.11 137.97 745.75 137.69 M759.91 131.95 760.31 131.8 760.94 131.56 761.57 131.32 762.21 131.09 762.84 130.85 763.47 130.62 764.11 130.39 764.74 130.16 765.37 129.93 766.01 129.7 766.64 129.47 767.27 129.25 767.91 129.02 768.54 128.8 769.17 128.58 769.8 128.36 770.44 128.14 M784.37 123.63 785 123.44 785.63 123.25 786.27 123.06 786.9 122.87 787.53 122.69 788.17 122.5 788.8 122.32 789.43 122.13 790.06 121.95 790.7 121.77 791.33 121.59 791.96 121.41 792.6 121.23 793.23 121.05 793.86 120.88 794.5 120.7 795.13 120.53 M808.91 116.98 809.06 116.94 809.69 116.79 810.33 116.64 810.96 116.49 811.59 116.34 812.22 116.19 812.86 116.04 813.49 115.89 814.12 115.75 814.76 115.6 815.39 115.46 816.02 115.31 816.66 115.17 817.29 115.03 817.92 114.89 818.56 114.75 819.19 114.61 819.82 114.47 M833.5 111.67 833.75 111.62 834.38 111.5 835.02 111.38 835.65 111.26 836.28 111.14 836.92 111.02 837.55 110.9 838.18 110.78 838.82 110.67 839.45 110.55 840.08 110.44 840.72 110.32 841.35 110.21 841.98 110.1 842.61 109.98 843.25 109.87 843.88 109.76 844.51 109.65 M858.12 107.43 858.44 107.38 859.08 107.29 859.71 107.19 860.34 107.1 860.98 107 861.61 106.91 862.24 106.81 862.87 106.72 863.51 106.63 864.14 106.54 864.77 106.45 865.41 106.36 866.04 106.26 866.67 106.18 867.31 106.09 867.94 106 868.57 105.91 869.21 105.82 M882.77 104.06 883.13 104.02 883.77 103.94 884.4 103.87 885.03 103.79 885.67 103.72 886.3 103.64 886.93 103.57 887.57 103.49 888.2 103.42 888.83 103.35 889.47 103.27 890.1 103.2 890.73 103.13 891.37 103.06 892 102.99 892.63 102.92 893.26 102.85 893.9 102.78 M907.44 101.38 907.83 101.35 908.46 101.28 909.09 101.22 909.73 101.16 910.36 101.1 910.99 101.04 911.63 100.99 912.26 100.93 912.89 100.87 913.52 100.81 914.16 100.75 914.79 100.7 915.42 100.64 916.06 100.58 916.69 100.53 917.32 100.47 917.96 100.41 918.59 100.36 M932.11 99.25 932.52 99.22 933.15 99.17 933.79 99.12 934.42 99.08 935.05 99.03 935.68 98.98 936.32 98.94 936.95 98.89 937.58 98.84 938.22 98.8 938.85 98.75 939.48 98.71 940.12 98.66 940.75 98.61 941.38 98.57 942.02 98.53 942.65 98.48 943.28 98.44 M956.79 97.56 957.21 97.53 957.84 97.5 958.48 97.46 959.11 97.42 959.74 97.38 960.38 97.34 961.01 97.31 961.64 97.27 962.28 97.23 962.91 97.2 963.54 97.16 964.18 97.12 964.81 97.09 965.44 97.05 966.07 97.02 966.71 96.98 967.34 96.95 967.97 96.91" stroke="#ff0000" stroke-width="3.7" fill="none" stroke-linecap="round"/>
<path d="M116.1 651.3 116.31 651.3 116.52 651.3 116.73 651.3 116.94 651.3 117.16 651.3 117.37 651.3 117.58 651.3 117.79 651.3 118 651.3 118.21 651.3 118.42 651.29 118.63 651.29 118.85 651.29 119.06 651.29 119.1 651.29 M124.34 651.27 124.65 651.27 124.97 651.27 125.29 651.27 125.6 651.27 125.92 651.26 126.24 651.26 126.55 651.26 126.87 651.26 127.19 651.26 127.38 651.26 M136.68 651.21 137 651.21 137.32 651.21 137.63 651.21 137.95 651.2 138.26 651.2 138.58 651.2 138.9 651.2 139.21 651.2 139.53 651.2 139.73 651.19 M149.03 651.14 149.34 651.14 149.66 651.13 149.98 651.13 150.29 651.13 150.61 651.13 150.93 651.12 151.24 651.12 151.56 651.12 151.88 651.12 152.07 651.12 M161.37 651.04 161.69 651.04 162.01 651.04 162.32 651.04 162.64 651.03 162.96 651.03 163.27 651.03 163.59 651.02 163.91 651.02 164.22 651.02 164.42 651.02 M173.72 650.93 174.04 650.92 174.35 650.92 174.67 650.92 174.99 650.91 175.3 650.91 175.62 650.9 175.94 650.9 176.25 650.9 176.57 650.89 176.77 650.89 M186.07 650.78 186.38 650.77 186.7 650.77 187.02 650.76 187.33 650.76 187.65 650.76 187.97 650.75 188.28 650.75 188.6 650.74 188.92 650.74 189.11 650.73 M198.41 650.59 198.73 650.58 199.05 650.58 199.36 650.57 199.68 650.57 199.99 650.56 200.31 650.56 200.63 650.55 200.94 650.55 201.26 650.54 201.46 650.54 M210.76 650.36 211.07 650.35 211.39 650.34 211.71 650.34 212.02 650.33 212.34 650.32 212.66 650.31 212.97 650.31 213.29 650.3 213.61 650.29 213.81 650.29 M223.1 650.06 223.42 650.05 223.74 650.04 224.05 650.04 224.37 650.03 224.69 650.02 225 650.01 225.32 650 225.64 649.99 225.95 649.98 226.15 649.98 M235.45 649.69 235.77 649.68 236.08 649.67 236.4 649.66 236.72 649.65 237.03 649.64 237.35 649.63 237.67 649.61 237.98 649.6 238.3 649.59 238.5 649.58 M247.8 649.22 248.11 649.21 248.43 649.2 248.75 649.18 249.06 649.17 249.38 649.16 249.7 649.14 250.01 649.13 250.33 649.12 250.65 649.1 250.85 649.09 M260.14 648.64 260.46 648.62 260.78 648.61 261.09 648.59 261.41 648.57 261.72 648.56 262.04 648.54 262.36 648.52 262.67 648.5 262.99 648.49 263.21 648.47 M272.49 647.91 272.8 647.89 273.12 647.87 273.44 647.85 273.75 647.82 274.07 647.8 274.39 647.78 274.7 647.76 275.02 647.74 275.34 647.72 275.56 647.7 M284.83 646.99 285.15 646.97 285.47 646.94 285.78 646.91 286.1 646.89 286.42 646.86 286.73 646.83 287.05 646.81 287.37 646.78 287.68 646.75 287.92 646.73 M297.18 645.85 297.5 645.81 297.81 645.78 298.13 645.75 298.45 645.71 298.76 645.68 299.08 645.65 299.4 645.61 299.71 645.58 300.03 645.54 300.29 645.52 M309.53 644.42 309.84 644.38 310.16 644.33 310.48 644.29 310.79 644.25 311.11 644.21 311.43 644.17 311.74 644.12 312.06 644.08 312.38 644.04 312.67 644 M321.87 642.63 322.19 642.58 322.51 642.53 322.82 642.48 323.14 642.43 323.45 642.38 323.77 642.32 324.09 642.27 324.4 642.22 324.72 642.16 325.04 642.11 325.07 642.1 M334.22 640.42 334.53 640.35 334.85 640.29 335.17 640.23 335.48 640.16 335.8 640.1 336.12 640.03 336.43 639.97 336.75 639.9 337.07 639.84 337.38 639.77 337.5 639.74 M346.56 637.67 346.88 637.6 347.2 637.52 347.51 637.44 347.83 637.36 348.15 637.28 348.46 637.2 348.78 637.12 349.1 637.04 349.41 636.95 349.73 636.87 349.96 636.81 M358.91 634.29 359.23 634.19 359.54 634.09 359.86 634 360.18 633.9 360.49 633.8 360.81 633.7 361.13 633.6 361.44 633.5 361.76 633.4 362.08 633.3 362.39 633.2 362.47 633.17 M371.26 630.13 371.57 630.01 371.89 629.89 372.21 629.77 372.52 629.65 372.84 629.53 373.16 629.41 373.47 629.29 373.79 629.17 374.11 629.05 374.42 628.92 374.74 628.8 375.04 628.68 M383.6 625.05 383.92 624.91 384.24 624.77 384.55 624.62 384.87 624.47 385.18 624.33 385.5 624.18 385.82 624.03 386.13 623.88 386.45 623.74 386.77 623.59 387.08 623.43 387.4 623.28 387.68 623.15 M395.95 618.9 396.26 618.73 396.58 618.55 396.9 618.38 397.21 618.2 397.53 618.03 397.85 617.85 398.16 617.67 398.48 617.49 398.8 617.31 399.11 617.13 399.43 616.95 399.75 616.77 400.06 616.58 400.38 616.4 400.38 616.4 M408.29 611.51 408.61 611.3 408.93 611.09 409.24 610.88 409.56 610.67 409.88 610.46 410.19 610.25 410.51 610.04 410.83 609.82 411.14 609.61 411.46 609.39 411.78 609.17 412.09 608.96 412.41 608.74 412.73 608.52 413.04 608.3 413.15 608.22 M420.64 602.71 420.96 602.46 421.27 602.22 421.59 601.97 421.91 601.72 422.22 601.47 422.54 601.22 422.86 600.97 423.17 600.72 423.49 600.46 423.81 600.21 424.12 599.95 424.44 599.7 424.76 599.44 425.07 599.18 425.39 598.92 425.71 598.66 425.96 598.45 M432.99 592.36 433.3 592.07 433.62 591.79 433.94 591.5 434.25 591.21 434.57 590.92 434.89 590.62 435.2 590.33 435.52 590.04 435.84 589.74 436.15 589.44 436.47 589.15 436.78 588.85 437.1 588.55 437.42 588.25 437.73 587.94 438.05 587.64 438.37 587.34 438.68 587.03 438.77 586.95 M445.33 580.36 445.65 580.02 445.97 579.69 446.28 579.36 446.6 579.03 446.91 578.69 447.23 578.36 447.55 578.02 447.86 577.68 448.18 577.34 448.5 577 448.81 576.66 449.13 576.32 449.45 575.97 449.76 575.63 450.08 575.28 450.4 574.93 450.71 574.59 451.03 574.24 451.35 573.89 451.57 573.64 M457.68 566.63 457.99 566.26 458.31 565.88 458.63 565.51 458.94 565.13 459.26 564.75 459.58 564.37 459.89 563.99 460.21 563.61 460.53 563.22 460.84 562.84 461.16 562.45 461.48 562.07 461.79 561.68 462.11 561.29 462.43 560.9 462.74 560.51 463.06 560.12 463.38 559.72 463.69 559.33 464.01 558.93 464.31 558.55 M470.02 551.21 470.34 550.79 470.66 550.37 470.97 549.96 471.29 549.54 471.61 549.11 471.92 548.69 472.24 548.27 472.56 547.84 472.87 547.42 473.19 546.99 473.21 546.97 M476.29 542.76 476.36 542.67 476.67 542.23 476.99 541.79 477.3 541.35 477.62 540.91 477.94 540.47 478.25 540.03 478.57 539.59 478.89 539.14 479.2 538.7 479.37 538.46 M482.37 534.19 482.69 533.73 483 533.27 483.32 532.82 483.64 532.36 483.95 531.9 484.27 531.44 484.59 530.98 484.9 530.51 485.22 530.05 485.37 529.82 M488.62 525.02 488.7 524.9 489.02 524.42 489.33 523.95 489.65 523.47 489.97 522.99 490.28 522.52 490.6 522.04 490.92 521.56 491.23 521.08 491.55 520.6 M494.72 515.75 495.03 515.27 495.35 514.78 495.67 514.29 495.98 513.79 496.3 513.3 496.62 512.81 496.93 512.32 497.25 511.82 497.57 511.33 497.58 511.3 M500.94 506 501.05 505.84 501.36 505.34 501.68 504.83 502 504.33 502.31 503.82 502.63 503.32 502.95 502.81 503.26 502.31 503.58 501.8 503.76 501.51 M507.06 496.18 507.38 495.67 507.7 495.15 508.01 494.64 508.33 494.12 508.64 493.61 508.96 493.09 509.28 492.58 509.59 492.06 509.83 491.67 M513.27 486.02 513.39 485.81 513.71 485.29 514.03 484.77 514.34 484.24 514.66 483.72 514.98 483.19 515.29 482.67 515.61 482.14 515.93 481.62 516.01 481.48 M519.41 475.81 519.72 475.28 520.04 474.75 520.36 474.22 520.67 473.69 520.99 473.16 521.31 472.63 521.62 472.1 521.94 471.57 522.12 471.26 M525.59 465.42 525.74 465.17 526.06 464.64 526.37 464.1 526.69 463.57 527.01 463.04 527.32 462.5 527.64 461.97 527.96 461.43 528.27 460.9 528.3 460.86 M531.75 455.01 532.07 454.47 532.39 453.94 532.7 453.4 533.02 452.87 533.34 452.33 533.65 451.79 533.97 451.26 534.29 450.72 534.45 450.45 M537.92 444.58 538.09 444.3 538.4 443.76 538.72 443.23 539.03 442.69 539.35 442.16 539.67 441.62 539.98 441.09 540.3 440.55 540.62 440.02 540.62 440.02 M544.1 434.15 544.42 433.62 544.73 433.09 545.05 432.56 545.37 432.03 545.68 431.5 546 430.96 546.32 430.43 546.63 429.9 546.81 429.6 M550.25 423.86 550.43 423.56 550.75 423.03 551.06 422.5 551.38 421.98 551.7 421.45 552.01 420.93 552.33 420.4 552.65 419.87 552.96 419.35 552.98 419.32 M556.45 413.6 556.76 413.08 557.08 412.56 557.4 412.04 557.71 411.53 558.03 411.01 558.35 410.49 558.66 409.97 558.98 409.45 559.21 409.08 M562.58 403.61 562.78 403.28 563.09 402.77 563.41 402.26 563.73 401.75 564.04 401.24 564.36 400.73 564.68 400.23 564.99 399.72 565.31 399.21 565.37 399.11 M568.79 393.66 569.11 393.16 569.43 392.66 569.74 392.16 570.06 391.66 570.37 391.16 570.69 390.67 571.01 390.17 571.32 389.67 571.63 389.19 M574.91 384.09 575.12 383.76 575.44 383.27 575.76 382.78 576.07 382.29 576.39 381.81 576.71 381.32 577.02 380.83 577.34 380.35 577.66 379.86 577.8 379.64 M581.14 374.58 581.45 374.11 581.77 373.63 582.09 373.15 582.4 372.68 582.72 372.21 583.04 371.73 583.35 371.26 583.67 370.79 583.99 370.32 584.08 370.18 M587.25 365.52 587.47 365.19 587.79 364.73 588.1 364.27 588.42 363.81 588.74 363.35 589.05 362.89 589.37 362.43 589.69 361.97 590 361.52 590.25 361.15 M593.48 356.54 593.8 356.09 594.12 355.65 594.43 355.2 594.75 354.75 595.07 354.31 595.38 353.87 595.7 353.42 596.02 352.98 596.33 352.54 596.56 352.22 M599.59 348.05 599.82 347.73 600.13 347.3 600.45 346.87 600.76 346.44 601.08 346.01 601.4 345.58 601.71 345.15 602.03 344.73 602.35 344.3 602.66 343.87 602.73 343.78 M605.83 339.66 606.15 339.25 606.46 338.83 606.78 338.41 607.1 338 607.41 337.59 607.73 337.17 608.05 336.76 608.36 336.35 608.68 335.94 609 335.53 609.31 335.12 609.63 334.71 609.95 334.31 610.26 333.9 610.58 333.49 610.9 333.09 611.21 332.69 611.53 332.28 611.84 331.88 612.16 331.48 612.34 331.25 M618.18 324.01 618.49 323.62 618.81 323.24 619.13 322.86 619.44 322.47 619.76 322.09 620.08 321.71 620.39 321.33 620.71 320.95 621.03 320.57 621.34 320.19 621.66 319.82 621.97 319.44 622.29 319.07 622.61 318.69 622.92 318.32 623.24 317.95 623.56 317.57 623.87 317.2 624.19 316.83 624.4 316.59 M630.52 309.6 630.84 309.24 631.16 308.89 631.47 308.54 631.79 308.19 632.1 307.84 632.42 307.49 632.74 307.14 633.05 306.79 633.37 306.45 633.69 306.1 634 305.76 634.32 305.41 634.64 305.07 634.95 304.73 635.27 304.38 635.59 304.04 635.9 303.7 636.22 303.36 636.44 303.13 M642.87 296.41 643.18 296.09 643.5 295.77 643.82 295.45 644.13 295.13 644.45 294.81 644.77 294.49 645.08 294.17 645.4 293.86 645.72 293.54 646.03 293.22 646.35 292.91 646.67 292.6 646.98 292.28 647.3 291.97 647.62 291.66 647.93 291.35 648.25 291.04 648.47 290.82 M655.21 284.41 655.53 284.12 655.85 283.83 656.16 283.53 656.48 283.24 656.8 282.95 657.11 282.67 657.43 282.38 657.75 282.09 658.06 281.8 658.38 281.52 658.7 281.23 659.01 280.95 659.33 280.66 659.65 280.38 659.96 280.1 660.28 279.81 660.52 279.6 M667.56 273.53 667.88 273.26 668.19 273 668.51 272.74 668.83 272.47 669.14 272.21 669.46 271.95 669.78 271.69 670.09 271.43 670.41 271.17 670.73 270.91 671.04 270.65 671.36 270.4 671.68 270.14 671.99 269.88 672.31 269.63 672.57 269.42 M679.91 263.7 680.22 263.46 680.54 263.22 680.86 262.98 681.17 262.75 681.49 262.51 681.81 262.27 682.12 262.04 682.44 261.81 682.76 261.57 683.07 261.34 683.39 261.11 683.7 260.87 684.02 260.64 684.34 260.41 684.64 260.19 M692.25 254.84 692.57 254.63 692.89 254.41 693.2 254.2 693.52 253.98 693.83 253.77 694.15 253.56 694.47 253.35 694.78 253.14 695.1 252.93 695.42 252.72 695.73 252.51 696.05 252.3 696.37 252.09 696.68 251.88 696.74 251.85 M704.6 246.88 704.91 246.68 705.23 246.49 705.55 246.3 705.86 246.11 706.18 245.92 706.5 245.73 706.81 245.54 707.13 245.35 707.45 245.16 707.76 244.97 708.08 244.78 708.4 244.59 708.71 244.41 708.86 244.32 M716.94 239.73 717.26 239.56 717.58 239.38 717.89 239.21 718.21 239.04 718.53 238.87 718.84 238.7 719.16 238.53 719.48 238.36 719.79 238.19 720.11 238.02 720.43 237.85 720.74 237.68 721 237.54 M729.29 233.32 729.61 233.17 729.92 233.01 730.24 232.86 730.56 232.7 730.87 232.55 731.19 232.4 731.51 232.25 731.82 232.09 732.14 231.94 732.46 231.79 732.77 231.64 733.09 231.49 733.18 231.45 M741.64 227.59 741.95 227.45 742.27 227.31 742.59 227.17 742.9 227.03 743.22 226.9 743.54 226.76 743.85 226.62 744.17 226.49 744.49 226.35 744.8 226.22 745.12 226.08 745.37 225.97 M753.98 222.46 754.3 222.33 754.62 222.21 754.93 222.09 755.25 221.96 755.56 221.84 755.88 221.72 756.2 221.6 756.51 221.47 756.83 221.35 757.15 221.23 757.46 221.11 757.59 221.06 M766.33 217.87 766.64 217.76 766.96 217.65 767.28 217.54 767.59 217.43 767.91 217.32 768.23 217.21 768.54 217.1 768.86 216.99 769.18 216.89 769.49 216.78 769.81 216.67 769.83 216.66 M778.67 213.78 778.99 213.68 779.31 213.58 779.62 213.48 779.94 213.38 780.26 213.29 780.57 213.19 780.89 213.09 781.21 212.99 781.52 212.9 781.84 212.8 782.09 212.72 M791.02 210.12 791.34 210.03 791.65 209.95 791.97 209.86 792.29 209.77 792.6 209.68 792.92 209.6 793.24 209.51 793.55 209.42 793.87 209.34 794.19 209.25 794.37 209.2 M803.37 206.86 803.68 206.78 804 206.7 804.32 206.62 804.63 206.54 804.95 206.47 805.27 206.39 805.58 206.31 805.9 206.23 806.22 206.16 806.53 206.08 806.65 206.05 M815.71 203.95 816.03 203.88 816.35 203.81 816.66 203.74 816.98 203.67 817.29 203.6 817.61 203.53 817.93 203.46 818.24 203.39 818.56 203.32 818.88 203.25 818.95 203.24 M828.06 201.35 828.37 201.29 828.69 201.22 829.01 201.16 829.32 201.1 829.64 201.04 829.96 200.98 830.27 200.91 830.59 200.85 830.91 200.79 831.22 200.73 831.26 200.72 M840.4 199.03 840.72 198.98 841.04 198.92 841.35 198.87 841.67 198.81 841.99 198.75 842.3 198.7 842.62 198.64 842.94 198.59 843.25 198.53 843.57 198.48 843.57 198.48 M852.75 196.97 853.07 196.92 853.38 196.87 853.7 196.82 854.02 196.77 854.33 196.72 854.65 196.67 854.97 196.62 855.28 196.57 855.6 196.52 855.89 196.48 M865.1 195.12 865.41 195.08 865.73 195.04 866.05 194.99 866.36 194.95 866.68 194.9 867 194.86 867.31 194.82 867.63 194.77 867.95 194.73 868.22 194.69 M877.44 193.48 877.76 193.44 878.08 193.4 878.39 193.36 878.71 193.32 879.02 193.29 879.34 193.25 879.66 193.21 879.97 193.17 880.29 193.13 880.55 193.1 M889.79 192.02 890.1 191.98 890.42 191.95 890.74 191.91 891.05 191.88 891.37 191.84 891.69 191.81 892 191.77 892.32 191.74 892.64 191.7 892.88 191.68 M902.13 190.71 902.45 190.68 902.77 190.65 903.08 190.62 903.4 190.59 903.72 190.56 904.03 190.53 904.35 190.49 904.67 190.46 904.98 190.43 905.22 190.41 M914.48 189.55 914.8 189.52 915.11 189.49 915.43 189.47 915.75 189.44 916.06 189.41 916.38 189.38 916.7 189.35 917.01 189.33 917.33 189.3 917.56 189.28 M926.83 188.51 927.14 188.49 927.46 188.46 927.78 188.44 928.09 188.41 928.41 188.39 928.73 188.36 929.04 188.34 929.36 188.31 929.68 188.29 929.9 188.27 M939.17 187.59 939.49 187.57 939.81 187.54 940.12 187.52 940.44 187.5 940.75 187.48 941.07 187.46 941.39 187.43 941.7 187.41 942.02 187.39 942.24 187.37 M951.52 186.76 951.83 186.74 952.15 186.72 952.47 186.71 952.78 186.69 953.1 186.67 953.42 186.65 953.73 186.63 954.05 186.61 954.37 186.59 954.58 186.57 M963.86 186.03 964.18 186.01 964.5 185.99 964.81 185.98 965.13 185.96 965.45 185.94 965.76 185.92 966.08 185.91 966.4 185.89 966.71 185.87 966.92 185.86 M976.21 185.38 976.32 185.37 976.42 185.37 976.53 185.36 976.63 185.35 976.74 185.35 976.84 185.34 976.95 185.34 977.05 185.33 977.16 185.33 977.26 185.32 977.37 185.32 977.47 185.31 977.58 185.31 977.69 185.3 977.79 185.3 977.9 185.29 978 185.29 978.11 185.28 978.21 185.28 978.32 185.27 978.42 185.27 978.53 185.26 978.63 185.26 978.74 185.25 978.84 185.25 978.95 185.24 979.06 185.24 979.16 185.23 979.21 185.23" stroke="#000" stroke-width="3.7" fill="none" stroke-linecap="round"/>
</g>
<text transform="translate(96.40 660.50) scale(0.965 1)" text-anchor="end" class="tl">0</text>
<text transform="translate(96.40 554.06) scale(0.965 1)" text-anchor="end" class="tl">100</text>
<text transform="translate(96.40 447.62) scale(0.965 1)" text-anchor="end" class="tl">200</text>
<text transform="translate(96.40 341.18) scale(0.965 1)" text-anchor="end" class="tl">300</text>
<text transform="translate(96.40 234.74) scale(0.965 1)" text-anchor="end" class="tl">400</text>
<text transform="translate(96.40 128.30) scale(0.965 1)" text-anchor="end" class="tl">500</text>
<text transform="translate(96.40 21.86) scale(0.965 1)" text-anchor="end" class="tl">600</text>
<text transform="translate(115.60 697.80) scale(0.92 1.0)" text-anchor="middle" class="tl">10<tspan class="sup" dy="-16">0</tspan></text>
<text transform="translate(239.06 697.80) scale(0.92 1.0)" text-anchor="middle" class="tl">10<tspan class="sup" dy="-16">1</tspan></text>
<text transform="translate(362.52 697.80) scale(0.92 1.0)" text-anchor="middle" class="tl">10<tspan class="sup" dy="-16">2</tspan></text>
<text transform="translate(485.98 697.80) scale(0.92 1.0)" text-anchor="middle" class="tl">10<tspan class="sup" dy="-16">3</tspan></text>
<text transform="translate(609.44 697.80) scale(0.92 1.0)" text-anchor="middle" class="tl">10<tspan class="sup" dy="-16">4</tspan></text>
<text transform="translate(732.90 697.80) scale(0.92 1.0)" text-anchor="middle" class="tl">10<tspan class="sup" dy="-16">5</tspan></text>
<text transform="translate(856.36 697.80) scale(0.92 1.0)" text-anchor="middle" class="tl">10<tspan class="sup" dy="-16">6</tspan></text>
<text transform="translate(979.82 697.80) scale(0.92 1.0)" text-anchor="middle" class="tl">10<tspan class="sup" dy="-16">7</tspan></text>
<text transform="translate(550.3 755.6) scale(1 1.065)" text-anchor="middle" class="ttl">Attached mass (yg)</text>
<text transform="translate(23.9 350.6) rotate(-90) scale(1 1.065)" text-anchor="middle" class="ttl">Frequency shift (GHz)</text>
<path d="M720 330.5H797.5" stroke="#0000ff" stroke-width="3.7" stroke-linecap="round"/><rect x="755.5" y="324.1" width="12.8" height="12.8" fill="#0000ff"/>
<circle cx="761.9" cy="372.3" r="6.8" fill="#fff" stroke="#d3141e" stroke-width="1.5"/><circle cx="761.9" cy="372.3" r="0.95" fill="#8a1414"/><path d="M720 373.5H790" stroke="#ff0000" stroke-width="3.7" stroke-linecap="round" stroke-dasharray="11.3 17.9"/>
<path d="M761.9 405.13L769.8 419.03L754 419.03Z" fill="#fff" stroke="#000" stroke-width="1.5"/><path d="M720 416.7H790.5" stroke="#000" stroke-width="3.7" stroke-linecap="round" stroke-dasharray="3.5 9.8"/>
<text transform="translate(806.00 342.50) scale(1 1.042)" class="lg">PD27PH14</text>
<text transform="translate(806.00 385.50) scale(1 1.042)" class="lg">PD27PH28</text>
<text transform="translate(806.00 428.70) scale(1 1.042)" class="lg">PD27PH47</text>
<path d="M99.2 628 H262.6 V659 L256.6 665 H99.2 Z" fill="none" stroke="#d7141a" stroke-width="2" stroke-dasharray="8.8 7.5"/>
<path d="M173.2 622.2 L279 346" stroke="#000" stroke-width="2.5" stroke-linecap="round"/>
<path d="M288 323.2 L270.4 344 L287.6 350 Z" fill="#000" stroke="#000" stroke-width="1" stroke-linejoin="round"/>
<rect x="147.2" y="42.8" width="334" height="268.8" fill="#fff" stroke="#000" stroke-width="2.4"/>
<path d="M161.2 311.6V306M161.2 42.8V48.4M468.6 311.6V306M468.6 42.8V48.4M253.74 311.6V308.4M253.74 42.8V46M307.87 311.6V308.4M307.87 42.8V46M346.27 311.6V308.4M346.27 42.8V46M376.06 311.6V308.4M376.06 42.8V46M400.4 311.6V308.4M400.4 42.8V46M420.98 311.6V308.4M420.98 42.8V46M438.81 311.6V308.4M438.81 42.8V46M454.53 311.6V308.4M454.53 42.8V46M147.2 258.3H152.8M481.2 258.3H475.6M147.2 204.3H150.4M481.2 204.3H478M147.2 150.3H152.8M481.2 150.3H475.6M147.2 96.3H150.4M481.2 96.3H478" stroke="#000" stroke-width="2.5" stroke-linecap="round" fill="none"/>
<path d="M149.4 258.2H478" stroke="#858585" stroke-width="3.3" stroke-linecap="round" stroke-dasharray="10.5 17.5"/>
<text x="180" y="246.4" class="ist">Frequency shift standard</text>
<g clip-path="url(#ic)">
<circle cx="161.2" cy="312.3" r="4.4" fill="#fff" stroke="#d3141e" stroke-width="1"/><circle cx="161.2" cy="312.3" r="0.01" fill="#8a1414"/>
<path d="M161.2 305.35L165.7 313.35L156.7 313.35Z" fill="#fff" stroke="#000" stroke-width="1.1"/>
<circle cx="468.6" cy="229.68" r="4.5" fill="#fff" stroke="#d3141e" stroke-width="1"/><circle cx="468.6" cy="229.68" r="0.01" fill="#8a1414"/>
<path d="M468.6 224.35L473.1 232.35L464.1 232.35Z" fill="#fff" stroke="#000" stroke-width="1.1"/>
<rect x="157.5" y="227.6" width="7.4" height="7.4" fill="#0000ff"/>
<rect x="465" y="60.3" width="7.2" height="7.2" fill="#0000ff"/>
<path d="M161.2 231.3L468.6 63.9" stroke="#0000ff" stroke-width="2.6"/>
<path d="M161.2 311.76L468.6 229.68" stroke="#ff0000" stroke-width="2.8" stroke-dasharray="9.9 11.8" stroke-dashoffset="0.6"/>
<path d="M161.2 311.76L468.6 229.68" stroke="#000" stroke-width="2.7" stroke-linecap="round" stroke-dasharray="0.01 8.77" stroke-dashoffset="-0.44"/>
</g>
<text x="140.6" y="264.7" text-anchor="end" class="itl">1</text>
<text x="140.6" y="156.7" text-anchor="end" class="itl">3</text>
<text x="140.6" y="48.7" text-anchor="end" class="itl">5</text>
<text x="160.7" y="339" text-anchor="middle" class="itl">10<tspan class="isup" dy="-10">0</tspan></text>
<text x="468.1" y="339" text-anchor="middle" class="itl">10<tspan class="isup" dy="-10">1</tspan></text>
</svg>
</body></html>
